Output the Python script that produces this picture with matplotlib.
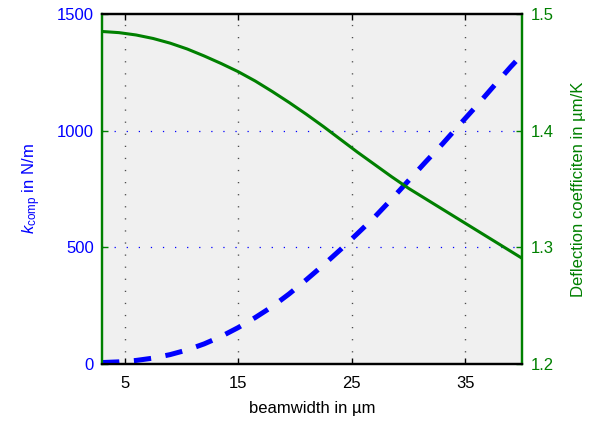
import numpy as np
import matplotlib
matplotlib.use('Agg')
import matplotlib.pyplot as plt

plt.rcParams['font.family'] = ['Liberation Sans', 'DejaVu Sans']
plt.rcParams['mathtext.fontset'] = 'custom'
plt.rcParams['mathtext.rm'] = 'Liberation Sans'
plt.rcParams['mathtext.it'] = 'Liberation Sans:italic'
plt.rcParams['lines.scale_dashes'] = False

# beamwidth in um
width = [3, 4.5, 6, 7.5, 9, 10.5, 12, 13.5, 15, 16.5, 18, 19.5, 21, 22.5, 24,
         25.5, 27, 28.5, 30, 31.5, 33, 34.5, 36, 37.5, 39, 40]
# k_comp in N/m (left axis)
k_comp = [5, 8, 14, 24, 39, 59, 85, 117, 155, 198, 245, 300, 360, 423, 489,
          558, 628, 705, 785, 865, 943, 1025, 1106, 1190, 1273, 1325]
# deflection coefficient in um/K (right axis)
defl = [1.485, 1.484, 1.482, 1.479, 1.475, 1.470, 1.464, 1.4575, 1.4505,
        1.4425, 1.4335, 1.424, 1.414, 1.4035, 1.3925, 1.3815, 1.371, 1.3605,
        1.3505, 1.3415, 1.3325, 1.3235, 1.3145, 1.3055, 1.2965, 1.2905]

xticks = [5, 15, 25, 35]
kticks = [0, 500, 1000, 1500]
dticks = [1.2, 1.3, 1.4, 1.5]

blue = (0, 0, 1)
green = (0, 0.5, 0)

fig = plt.figure(figsize=(5.9, 4.24), dpi=100)
ax = fig.add_axes([0.1729, 0.1422, 0.7118, 0.8248])
ax.set_facecolor('#f0f0f0')
ax2 = ax.twinx()

ax.plot(width, k_comp, color=blue, lw=3.6, dashes=(12.5, 10.5),
        dash_capstyle='butt', zorder=3)
ax2.plot(width, defl, color=green, lw=2.2, zorder=3)

ax.set_xlim(3, 40)
ax.set_ylim(0, 1500)
ax2.set_ylim(1.2, 1.5)
ax.set_xticks(xticks)
ax.set_yticks(kticks)
ax2.set_yticks(dticks)
ax2.set_yticklabels(['1.2', '1.3', '1.4', '1.5'])

# grid lines
for xv in xticks:
    ax.axvline(xv, color='0.3', lw=1.0, dashes=(0.9, 7.8), zorder=1)
for yv in [500, 1000]:
    ax.axhline(yv, color=blue, lw=0.9, dashes=(0.9, 7.8), zorder=1)

ax.tick_params(axis='x', direction='in', top=True, length=4, width=1,
               labelsize=12, colors='black', pad=9)
ax.tick_params(axis='y', direction='in', length=4, width=1, labelsize=12,
               color=green, labelcolor=blue, pad=6)
ax2.tick_params(axis='y', direction='in', length=4, width=1, labelsize=12,
                color=green, labelcolor=green, pad=6)

for a in (ax, ax2):
    a.spines['top'].set_color('black')
    a.spines['bottom'].set_color('black')
    a.spines['left'].set_color(green)
    a.spines['right'].set_color(green)
    for s in a.spines.values():
        s.set_linewidth(1.6)

ax.set_xlabel('beamwidth in \u00b5m', fontsize=12, labelpad=7)
ax.set_ylabel(r'$k_{\mathrm{comp}}$ in N/m', fontsize=12, color=blue, labelpad=10)
ax2.set_ylabel('Deflection coefficiten in \u00b5m/K', fontsize=12, color=green,
               labelpad=13)

fig.savefig('out.png', dpi=100)
